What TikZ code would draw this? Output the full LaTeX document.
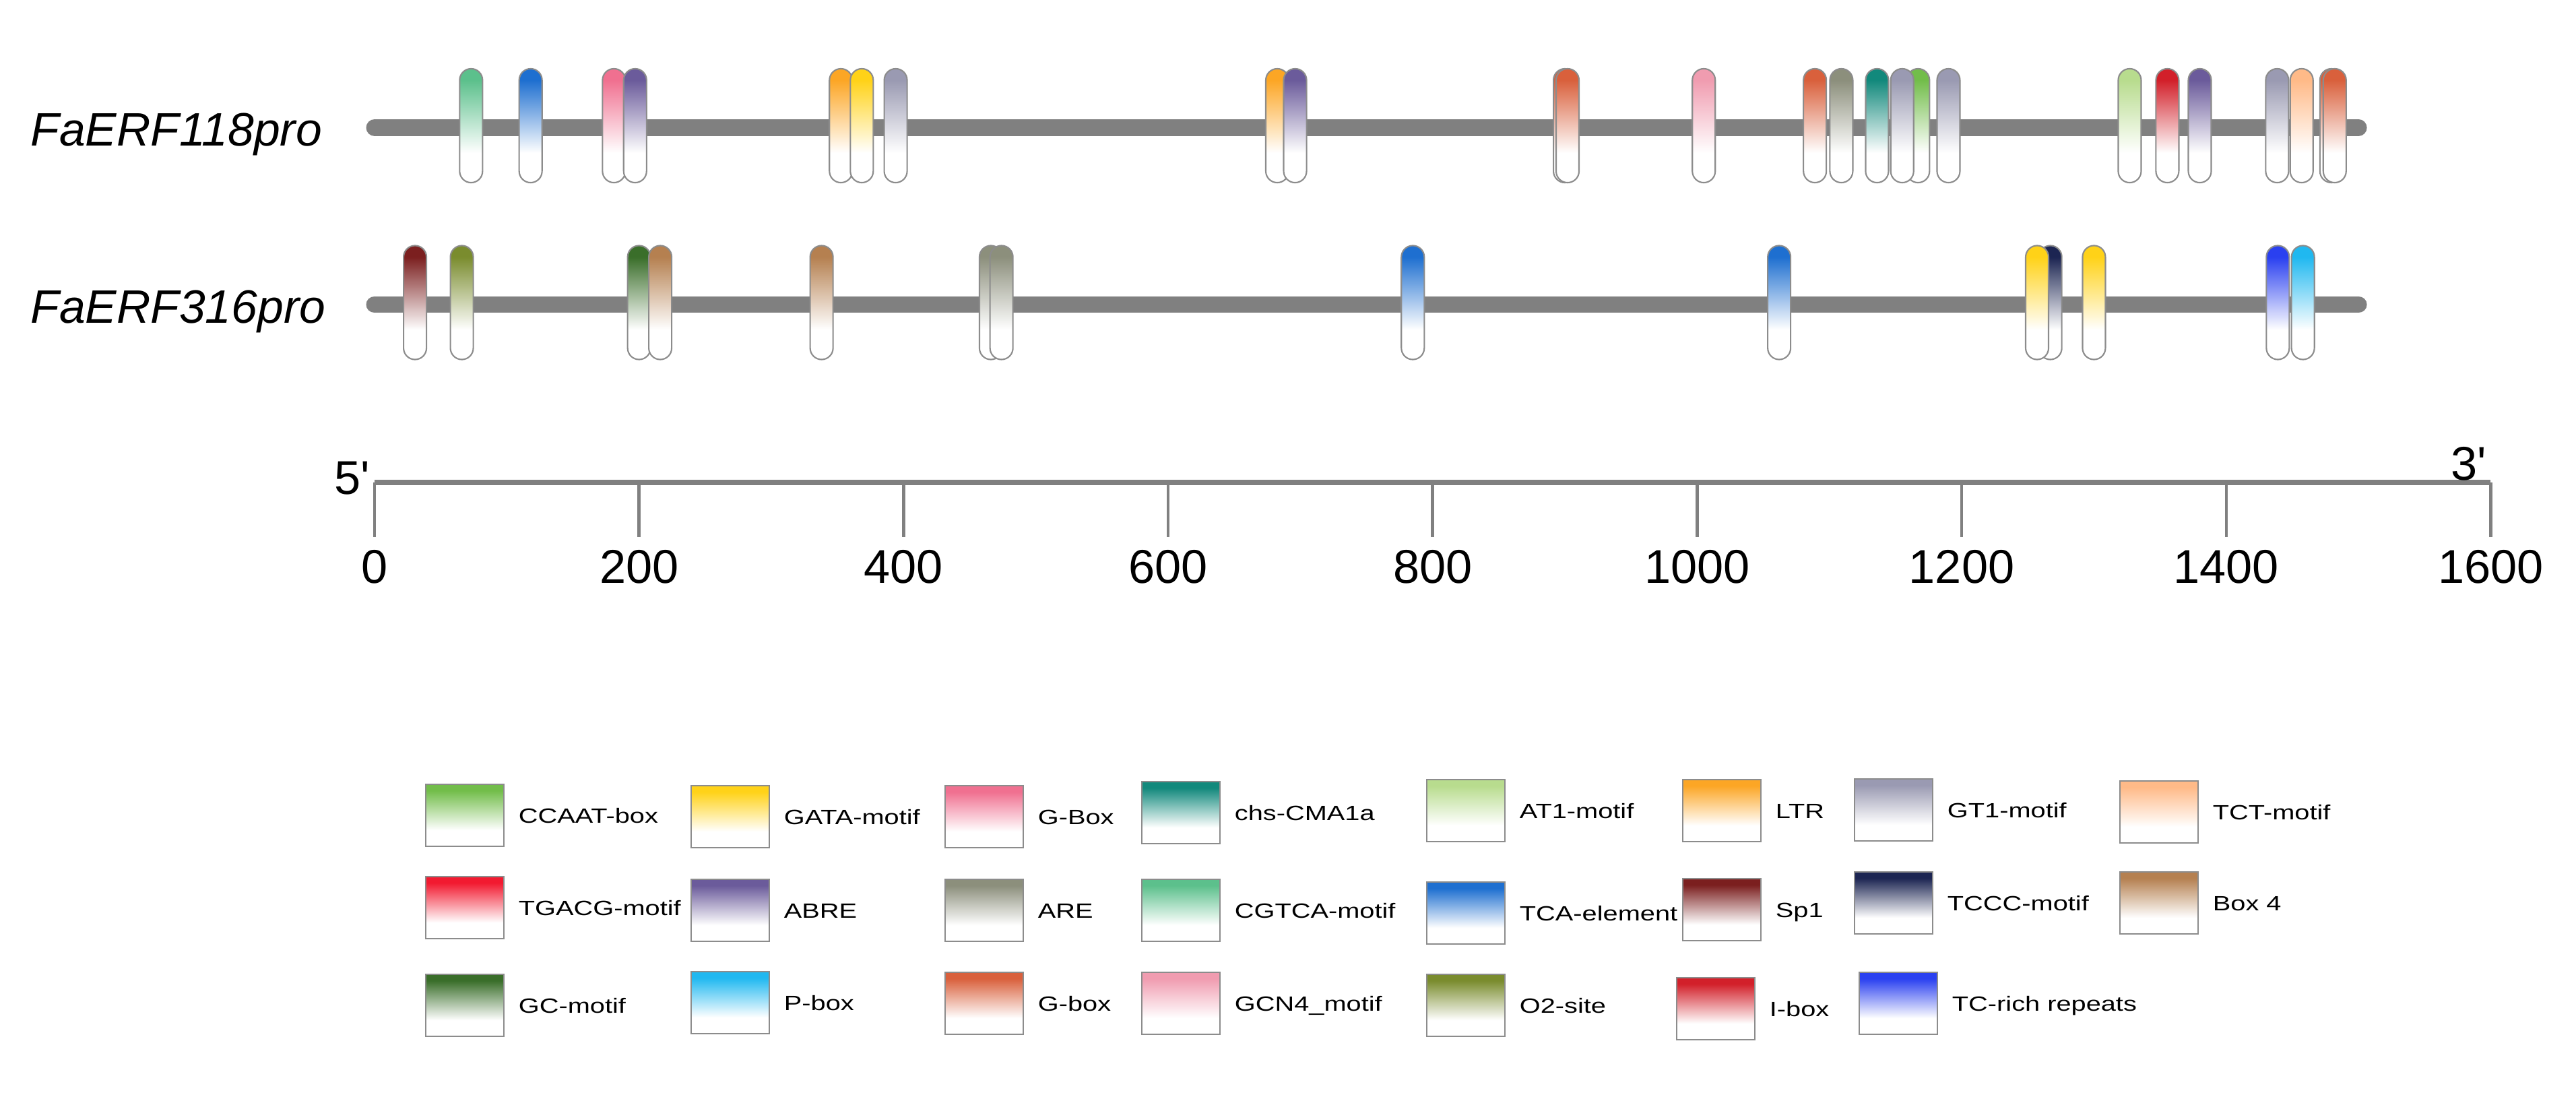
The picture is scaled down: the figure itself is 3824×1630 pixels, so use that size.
\documentclass[tikz,border=0pt]{standalone}
\usepackage{fontspec}
\setmainfont{Liberation Sans}
\newfontfamily\legendfont[FakeStretch=1.3]{Liberation Sans}
\usetikzlibrary{positioning}

\definecolor{linegray}{HTML}{808080}
\definecolor{motifline}{HTML}{8C8C8C}
\definecolor{ccaat}{HTML}{72BD4A}
\definecolor{gata}{HTML}{FFD218}
\definecolor{gboxpink}{HTML}{F07090}
\definecolor{chs}{HTML}{12897C}
\definecolor{atone}{HTML}{B8DC8E}
\definecolor{ltr}{HTML}{FCA625}
\definecolor{gtone}{HTML}{9A9AB2}
\definecolor{tct}{HTML}{FFBA88}
\definecolor{tgacg}{HTML}{F21A30}
\definecolor{abre}{HTML}{6B5B9B}
\definecolor{are}{HTML}{8C8F7C}
\definecolor{cgtca}{HTML}{5CC08C}
\definecolor{tca}{HTML}{1E6FD0}
\definecolor{spone}{HTML}{7B1F1F}
\definecolor{tccc}{HTML}{1C2552}
\definecolor{boxfour}{HTML}{B58050}
\definecolor{gc}{HTML}{3A6E2A}
\definecolor{pbox}{HTML}{20B8F0}
\definecolor{gboxred}{HTML}{D9603C}
\definecolor{gcn}{HTML}{F09CB0}
\definecolor{otwo}{HTML}{7A8C2E}
\definecolor{ibox}{HTML}{D2202A}
\definecolor{tcrich}{HTML}{2A40F0}

\colorlet{motifcol}{gray}
\pgfdeclareverticalshading[motifcol]{motiffade}{100bp}{color(0bp)=(white); color(38bp)=(white); color(70bp)=(motifcol); color(100bp)=(motifcol)}

\begin{document}
\begin{tikzpicture}[x=0.01cm,y=-0.01cm]
		\tikzstyle{promoter}=[line width=7.1pt,linegray,line cap=round]
		\tikzstyle{scalebar}=[line width=2.3pt,linegray]
		\tikzstyle{tick}=[line width=1.3pt,linegray]
		\tikzstyle{genename}=[inner sep=0pt,font=\fontsize{19.8pt}{22pt}\selectfont\itshape]
		\tikzstyle{ticklabel}=[inner sep=0pt,font=\fontsize{20pt}{24pt}\selectfont]
		\tikzstyle{legtext}=[inner sep=0pt,text height=0.22cm,text depth=0pt,font=\legendfont\fontsize{8.7pt}{10pt}\selectfont]
		\tikzset{motif/.style={draw=motifline,line width=0.6pt,rounded corners=0.17cm,minimum width=0.34cm,minimum height=1.69cm,inner sep=0pt,/utils/exec={\colorlet{motifcol}{#1}},shading=motiffade}}
		\tikzset{legbox/.style={draw=motifline,line width=0.6pt,minimum width=1.16cm,minimum height=0.92cm,inner sep=0pt,anchor=north west,/utils/exec={\colorlet{motifcol}{#1}},shading=motiffade}}
		
		\useasboundingbox (0,0) rectangle (3824,1630);
		
		\node[genename,anchor=base west] (g1) at (45,216) {FaERF118pro};
		\node[genename,anchor=base west] (g2) at (45,479) {FaERF316pro};
		
		\begin{scope}[shift={(556,0)},x=0.019625cm]
		\coordinate (p1s) at (0,189.5);
		\coordinate (p1e) at (1500,189.5);
		\coordinate (p2s) at (0,452);
		\coordinate (p2e) at (1500,452);
		\draw[promoter] (p1s) -- (p1e);
		\draw[promoter] (p2s) -- (p2e);
		
		\foreach \p/\c [count=\i] in {73/cgtca,118/tca,181/gboxpink,197/abre,352.6/ltr,368.4/gata,394/gtone,682.5/ltr,696/abre,900/gboxred,902/gboxred,1005/gcn,1089/gboxred,1109/are,1136/chs,1167/ccaat,1155/gtone,1190/gtone,1327/atone,1355.5/ibox,1380/abre,1438.5/gtone,1457/tct,1479.5/gboxred,1482/gboxred}
			\node[motif=\c] (a\i) at (\p,186.5) {};
		\foreach \p/\c [count=\i] in {30.6/spone,66/otwo,200/gc,216/boxfour,338/boxfour,466/are,474/are,785/tca,1062/tca,1267/tccc,1257/gata,1300/gata,1439/tcrich,1458/pbox}
			\node[motif=\c] (b\i) at (\p,449) {};
		
		\coordinate (s0) at (0,716);
		\coordinate (s1) at (1600,716);
		\draw[scalebar] (s0) -- (s1);
		\foreach \t in {0,200,...,1600} {
			\coordinate (k\t) at (\t,716);
			\coordinate (kk\t) at (\t,797);
			\draw[tick] (k\t) -- (kk\t);
			\node[ticklabel,anchor=base] (n\t) at (\t,865) {\t};
		}
		\node[ticklabel,anchor=base east] (five) at (-3,733) {5\textquotesingle};
		\node[ticklabel,anchor=base east] (three) at (1597,712) {3\textquotesingle};
		\end{scope}
		
		\foreach \lx/\ly/\c/\txt [count=\k] in {631/1163/ccaat/CCAAT-box,1025/1165/gata/GATA-motif,1402/1165/gboxpink/G-Box,1694/1159/chs/chs-CMA1a,2117/1156/atone/AT1-motif,2497/1156/ltr/LTR,2752/1155/gtone/GT1-motif,3146/1158/tct/TCT-motif,631/1300/tgacg/TGACG-motif,1025/1304/abre/ABRE,1402/1304/are/ARE,1694/1304/cgtca/CGTCA-motif,2117/1308/tca/TCA-element,2497/1303/spone/Sp1,2752/1293/tccc/TCCC-motif,3146/1293/boxfour/Box 4,631/1445/gc/GC-motif,1025/1441/pbox/P-box,1402/1442/gboxred/G-box,1694/1442/gcn/GCN4\_motif,2117/1445/otwo/O2-site,2488/1450/ibox/I-box,2759/1442/tcrich/TC-rich repeats} {
			\node[legbox=\c] (l\k) at (\lx,\ly) {};
			\node[legtext,right=0.2cm of l\k] (lt\k) {\txt};
		}
		\end{tikzpicture}
\end{document}
